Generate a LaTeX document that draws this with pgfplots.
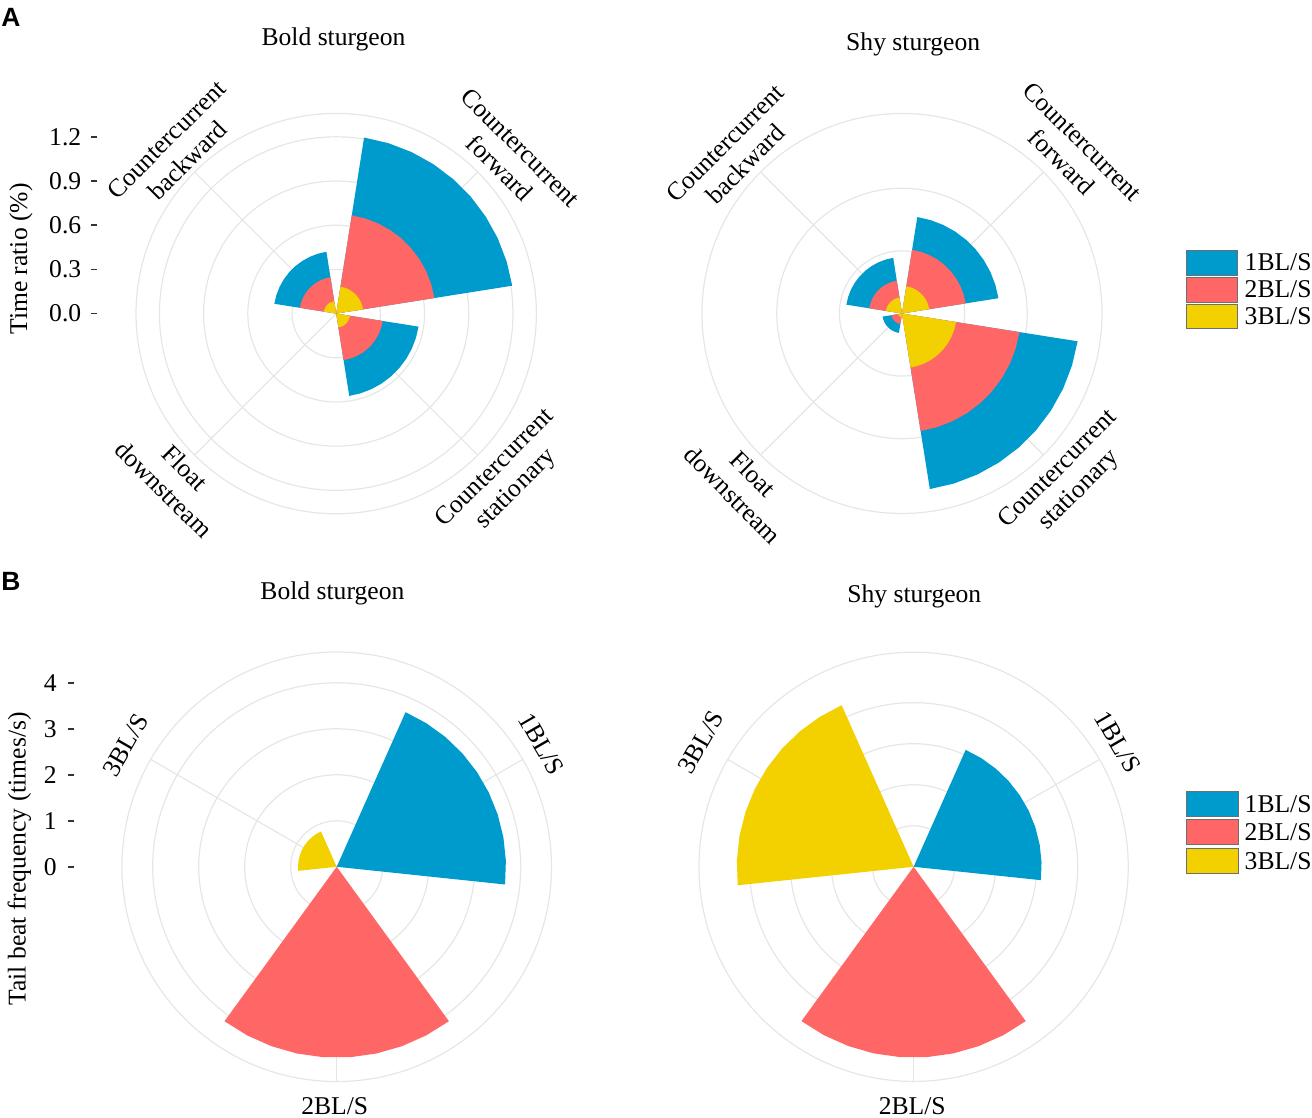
\documentclass[border=0pt]{standalone}
\usepackage{fontspec}
\setmainfont{Liberation Serif}
\newfontfamily\lsans{Liberation Sans}
\usepackage{pgfplots}
\usepgfplotslibrary{polar}
\pgfplotsset{compat=1.18}
\usepackage{pgfplotstable}

\definecolor{cblue}{RGB}{0,155,205}
\definecolor{cred}{RGB}{255,102,102}
\definecolor{cyellow}{RGB}{243,208,0}
\definecolor{gridc}{RGB}{230,230,230}
\definecolor{tickc}{RGB}{51,51,51}
\definecolor{legb}{RGB}{110,110,110}

% ---------- Panel A, bold sturgeon (radius of each layer; columns v1=1BL/S, v2=2BL/S, v3=3BL/S)
\pgfplotstableread{
ang v1 v2 v3
45 0 0 0
9 1.21 0.675 0.185
17 1.21 0.675 0.185
25 1.21 0.675 0.185
33 1.21 0.675 0.185
41 1.21 0.675 0.185
49 1.21 0.675 0.185
57 1.21 0.675 0.185
65 1.21 0.675 0.185
73 1.21 0.675 0.185
81 1.21 0.675 0.185
}\BoldFwd
\pgfplotstableread{
ang v1 v2 v3
135 0 0 0
99 0.425 0.25 0.085
107 0.425 0.25 0.085
115 0.425 0.25 0.085
123 0.425 0.25 0.085
131 0.425 0.25 0.085
139 0.425 0.25 0.085
147 0.425 0.25 0.085
155 0.425 0.25 0.085
163 0.425 0.25 0.085
171 0.425 0.25 0.085
}\BoldBwd
\pgfplotstableread{
ang v1 v2 v3
-45 0 0 0
-81 0.566 0.32 0.095
-73 0.566 0.32 0.095
-65 0.566 0.32 0.095
-57 0.566 0.32 0.095
-49 0.566 0.32 0.095
-41 0.566 0.32 0.095
-33 0.566 0.32 0.095
-25 0.566 0.32 0.095
-17 0.566 0.32 0.095
-9 0.566 0.32 0.095
}\BoldSta

% ---------- Panel A, shy sturgeon
\pgfplotstableread{
ang v1 v2 v3
45 0 0 0
9 0.78 0.515 0.22
17 0.78 0.515 0.22
25 0.78 0.515 0.22
33 0.78 0.515 0.22
41 0.78 0.515 0.22
49 0.78 0.515 0.22
57 0.78 0.515 0.22
65 0.78 0.515 0.22
73 0.78 0.515 0.22
81 0.78 0.515 0.22
}\ShyFwd
\pgfplotstableread{
ang v1 v2 v3
135 0 0 0
99 0.45 0.265 0.13
107 0.45 0.265 0.13
115 0.45 0.265 0.13
123 0.45 0.265 0.13
131 0.45 0.265 0.13
139 0.45 0.265 0.13
147 0.45 0.265 0.13
155 0.45 0.265 0.13
163 0.45 0.265 0.13
171 0.45 0.265 0.13
}\ShyBwd
\pgfplotstableread{
ang v1 v2 v3
-45 0 0 0
-81 1.42 0.95 0.437
-73 1.42 0.95 0.437
-65 1.42 0.95 0.437
-57 1.42 0.95 0.437
-49 1.42 0.95 0.437
-41 1.42 0.95 0.437
-33 1.42 0.95 0.437
-25 1.42 0.95 0.437
-17 1.42 0.95 0.437
-9 1.42 0.95 0.437
}\ShySta
\pgfplotstableread{
ang v1 v2 v3
-135 0 0 0
-171 0.157 0.085 0.03
-163 0.157 0.085 0.03
-155 0.157 0.085 0.03
-147 0.157 0.085 0.03
-139 0.157 0.085 0.03
-131 0.157 0.085 0.03
-123 0.157 0.085 0.03
-115 0.157 0.085 0.03
-107 0.157 0.085 0.03
-99 0.157 0.085 0.03
}\ShyFlo

% ---------- Panel B (a1/v1 = 1BL/S, a2/v2 = 2BL/S, a3/v3 = 3BL/S)
\pgfplotstableread{
a1 v1 a2 v2 a3 v3
30 0 -90 0 150 0
-6 3.68 -126 4.15 114 0.84
2 3.68 -118 4.15 122 0.84
10 3.68 -110 4.15 130 0.84
18 3.68 -102 4.15 138 0.84
26 3.68 -94 4.15 146 0.84
34 3.68 -86 4.15 154 0.84
42 3.68 -78 4.15 162 0.84
50 3.68 -70 4.15 170 0.84
58 3.68 -62 4.15 178 0.84
66 3.68 -54 4.15 186 0.84
}\BoldTail
\pgfplotstableread{
a1 v1 a2 v2 a3 v3
30 0 -90 0 150 0
-6 3.12 -126 4.65 114 4.31
2 3.12 -118 4.65 122 4.31
10 3.12 -110 4.65 130 4.31
18 3.12 -102 4.65 138 4.31
26 3.12 -94 4.65 146 4.31
34 3.12 -86 4.65 154 4.31
42 3.12 -78 4.65 162 4.31
50 3.12 -70 4.65 170 4.31
58 3.12 -62 4.65 178 4.31
66 3.12 -54 4.65 186 4.31
}\ShyTail

\def\uA{73.65pt}
\def\uS{62.6pt}
\def\uB{23pt}
\def\uT{20.515pt}

\pgfplotsset{
  rose/.style={anchor=origin, clip=false,
    tick label style={font=\fontsize{12.8}{14.8}\selectfont},
    /pgf/number format/assume math mode=true},
  wedge/.style={data cs=polar, draw=none, fill=#1},
  spoke/.style={data cs=polar, color=gridc, line width=0.6pt},
  leftticks/.style={axis x line=none, axis y line*=left,
    y axis line style={draw=none}, tick align=outside,
    major tick length=3pt, ytick style={color=tickc, line width=0.75pt},
    yticklabel style={anchor=east, inner sep=0pt, xshift=#1}},
}
\tikzset{gridl/.style={draw=gridc, line width=0.6pt}}

\begin{document}
\begin{tikzpicture}[font=\fontsize{12.8}{14.8}\selectfont]
\path[use as bounding box] (0,0) rectangle (656pt,559pt);

% ===== A: Bold sturgeon
\begin{axis}[rose, leftticks=-4.8pt, at={(168.1pt,402.2pt)},
  x=73.65pt, y=73.65pt, xmin=-1.6225, xmax=1.45, ymin=-1.45, ymax=1.45,
  ytick={0,0.3,0.6,0.9,1.2},
  yticklabel style={/pgf/number format/fixed, /pgf/number format/fixed zerofill, /pgf/number format/precision=1}]
  \draw[gridl] (axis cs:0,0) circle[radius=0.3*\uA];
  \draw[gridl] (axis cs:0,0) circle[radius=0.6*\uA];
  \draw[gridl] (axis cs:0,0) circle[radius=0.9*\uA];
  \draw[gridl] (axis cs:0,0) circle[radius=1.2*\uA];
  \draw[gridl] (axis cs:0,0) circle[radius=1.359*\uA];
  \addplot[spoke] coordinates {(45,1.359) (225,1.359)};
  \addplot[spoke] coordinates {(135,1.359) (315,1.359)};
  \addplot[wedge=cblue] table[x=ang,y=v1]{\BoldFwd};
  \addplot[wedge=cred] table[x=ang,y=v2]{\BoldFwd};
  \addplot[wedge=cyellow] table[x=ang,y=v3]{\BoldFwd};
  \addplot[wedge=cblue] table[x=ang,y=v1]{\BoldBwd};
  \addplot[wedge=cred] table[x=ang,y=v2]{\BoldBwd};
  \addplot[wedge=cyellow] table[x=ang,y=v3]{\BoldBwd};
  \addplot[wedge=cblue] table[x=ang,y=v1]{\BoldSta};
  \addplot[wedge=cred] table[x=ang,y=v2]{\BoldSta};
  \addplot[wedge=cyellow] table[x=ang,y=v3]{\BoldSta};
\end{axis}

% ===== A: Shy sturgeon
\begin{axis}[rose, hide axis, at={(451pt,402.25pt)},
  x=62.6pt, y=62.6pt, xmin=-1.65, xmax=1.65, ymin=-1.65, ymax=1.65]
  \draw[gridl] (axis cs:0,0) circle[radius=0.5*\uS];
  \draw[gridl] (axis cs:0,0) circle[radius=1.0*\uS];
  \draw[gridl] (axis cs:0,0) circle[radius=1.5975*\uS];
  \addplot[spoke] coordinates {(45,1.5975) (225,1.5975)};
  \addplot[spoke] coordinates {(135,1.5975) (315,1.5975)};
  \addplot[wedge=cblue] table[x=ang,y=v1]{\ShyFwd};
  \addplot[wedge=cred] table[x=ang,y=v2]{\ShyFwd};
  \addplot[wedge=cyellow] table[x=ang,y=v3]{\ShyFwd};
  \addplot[wedge=cblue] table[x=ang,y=v1]{\ShyBwd};
  \addplot[wedge=cred] table[x=ang,y=v2]{\ShyBwd};
  \addplot[wedge=cyellow] table[x=ang,y=v3]{\ShyBwd};
  \addplot[wedge=cblue] table[x=ang,y=v1]{\ShySta};
  \addplot[wedge=cred] table[x=ang,y=v2]{\ShySta};
  \addplot[wedge=cyellow] table[x=ang,y=v3]{\ShySta};
  \addplot[wedge=cblue] table[x=ang,y=v1]{\ShyFlo};
  \addplot[wedge=cred] table[x=ang,y=v2]{\ShyFlo};
  \addplot[wedge=cyellow] table[x=ang,y=v3]{\ShyFlo};
\end{axis}

% ===== B: Bold sturgeon
\begin{axis}[rose, leftticks=-5.2pt, at={(168.35pt,125.6pt)},
  x=23pt, y=23pt, xmin=-5.72, xmax=5, ymin=-5, ymax=5,
  ytick={0,1,2,3,4}]
  \draw[gridl] (axis cs:0,0) circle[radius=1*\uB];
  \draw[gridl] (axis cs:0,0) circle[radius=2*\uB];
  \draw[gridl] (axis cs:0,0) circle[radius=3*\uB];
  \draw[gridl] (axis cs:0,0) circle[radius=4*\uB];
  \draw[gridl] (axis cs:0,0) circle[radius=4.669*\uB];
  \addplot[spoke] coordinates {(30,4.669) (0,0) (150,4.669)};
  \addplot[spoke] coordinates {(0,0) (270,4.669)};
  \addplot[wedge=cblue] table[x=a1,y=v1]{\BoldTail};
  \addplot[wedge=cred] table[x=a2,y=v2]{\BoldTail};
  \addplot[wedge=cyellow] table[x=a3,y=v3]{\BoldTail};
\end{axis}

% ===== B: Shy sturgeon
\begin{axis}[rose, hide axis, at={(456.8pt,125.6pt)},
  x=20.515pt, y=20.515pt, xmin=-5.4, xmax=5.4, ymin=-5.4, ymax=5.4]
  \draw[gridl] (axis cs:0,0) circle[radius=1*\uT];
  \draw[gridl] (axis cs:0,0) circle[radius=2*\uT];
  \draw[gridl] (axis cs:0,0) circle[radius=3*\uT];
  \draw[gridl] (axis cs:0,0) circle[radius=4*\uT];
  \draw[gridl] (axis cs:0,0) circle[radius=5.231*\uT];
  \addplot[spoke] coordinates {(30,5.231) (0,0) (150,5.231)};
  \addplot[spoke] coordinates {(0,0) (270,5.231)};
  \addplot[wedge=cblue] table[x=a1,y=v1]{\ShyTail};
  \addplot[wedge=cred] table[x=a2,y=v2]{\ShyTail};
  \addplot[wedge=cyellow] table[x=a3,y=v3]{\ShyTail};
\end{axis}

% ===== texts
\node[font=\fontsize{13.2}{15}\lsans\bfseries, inner sep=0pt] at (5.5pt,550.3pt) {A};
\node[font=\fontsize{13.2}{15}\lsans\bfseries, inner sep=0pt] at (5.5pt,268.3pt) {B};

\node[inner sep=0pt] at (166.75pt,539.35pt) {Bold sturgeon};
\node[inner sep=0pt] at (456.6pt,536.7pt) {Shy sturgeon};
\node[inner sep=0pt] at (166.2pt,262.1pt) {Bold sturgeon};
\node[inner sep=0pt] at (457.15pt,260.6pt) {Shy sturgeon};

\node[inner sep=0pt, rotate=90] at (10.5pt,429.5pt) {Time ratio (\%)};
\node[inner sep=0pt, rotate=90] at (9.7pt,129.5pt) {Tail beat frequency (times/s)};

% category labels A
\node[inner sep=0pt, align=center, rotate=-45] at (255pt,480pt) {Countercurrent\\forward};
\node[inner sep=0pt, align=center, rotate=45] at (88.5pt,484pt) {Countercurrent\\backward};
\node[inner sep=0pt, align=center, rotate=-45] at (87.25pt,319.7pt) {Float\\downstream};
\node[inner sep=0pt, align=center, rotate=45] at (253pt,319.5pt) {Countercurrent\\stationary};
\node[inner sep=0pt, align=center, rotate=-45] at (536pt,483pt) {Countercurrent\\forward};
\node[inner sep=0pt, align=center, rotate=45] at (367.7pt,482.2pt) {Countercurrent\\backward};
\node[inner sep=0pt, align=center, rotate=-45] at (371.45pt,316.8pt) {Float\\downstream};
\node[inner sep=0pt, align=center, rotate=45] at (534.5pt,319pt) {Countercurrent\\stationary};

% category labels B
\node[inner sep=0pt, rotate=-60] at (270.8pt,187pt) {1BL/S};
\node[inner sep=0pt, rotate=60] at (62.75pt,186.5pt) {3BL/S};
\node[inner sep=0pt] at (167.35pt,5.85pt) {2BL/S};
\node[inner sep=0pt, rotate=-60] at (558.95pt,187.9pt) {1BL/S};
\node[inner sep=0pt, rotate=60] at (350.45pt,187.9pt) {3BL/S};
\node[inner sep=0pt] at (456.1pt,5.85pt) {2BL/S};

% legends
\draw[fill=cblue, draw=legb, line width=0.4pt] (593pt,421.35pt) rectangle (618.85pt,434pt);
\draw[fill=cred, draw=legb, line width=0.4pt] (593pt,408pt) rectangle (618.85pt,420.5pt);
\draw[fill=cyellow, draw=legb, line width=0.4pt] (593pt,394.65pt) rectangle (618.85pt,406.85pt);
\node[inner sep=0pt, anchor=west] at (622.15pt,427.7pt) {1BL/S};
\node[inner sep=0pt, anchor=west] at (622.15pt,414.25pt) {2BL/S};
\node[inner sep=0pt, anchor=west] at (622.15pt,400.75pt) {3BL/S};

\draw[fill=cblue, draw=legb, line width=0.4pt] (593.25pt,150.9pt) rectangle (618.95pt,163.35pt);
\draw[fill=cred, draw=legb, line width=0.4pt] (593.25pt,136.65pt) rectangle (618.95pt,149.1pt);
\draw[fill=cyellow, draw=legb, line width=0.4pt] (593.25pt,122.4pt) rectangle (618.95pt,134.85pt);
\node[inner sep=0pt, anchor=west] at (622.15pt,157.15pt) {1BL/S};
\node[inner sep=0pt, anchor=west] at (622.15pt,142.85pt) {2BL/S};
\node[inner sep=0pt, anchor=west] at (622.15pt,128.6pt) {3BL/S};
\end{tikzpicture}
\end{document}
